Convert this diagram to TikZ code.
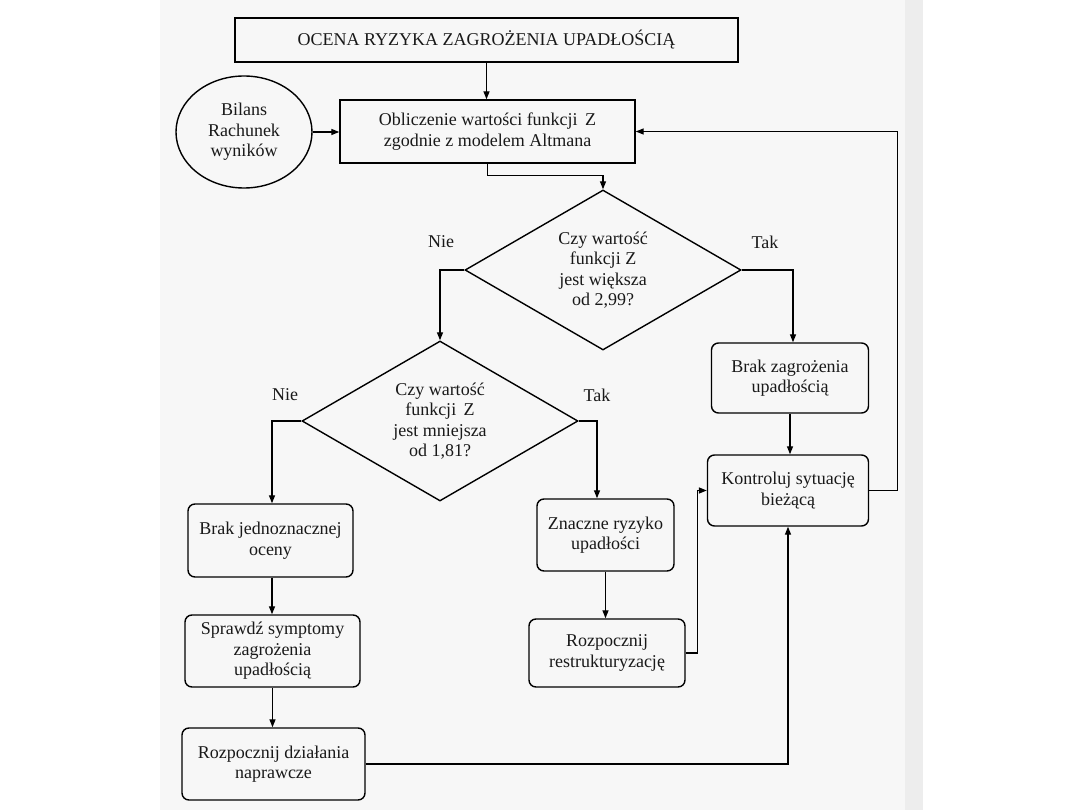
\documentclass[tikz,border=0pt]{standalone}
\usepackage{fontspec}
\setmainfont{Liberation Serif}
\usetikzlibrary{shapes.geometric,arrows.meta}
\begin{document}
\begin{tikzpicture}[x=1pt,y=-1pt,
  txt/.style={font=\fontsize{18}{20.5}\selectfont, align=center, text=black!90},
  sqbox/.style={txt, draw, line width=1.4pt, inner sep=0pt},
  rbox/.style={txt, draw, line width=1.4pt, rounded corners=7pt, inner sep=0pt},
  dec/.style={txt, draw, line width=1.4pt, shape=diamond, aspect=1.725, inner sep=0pt, minimum width=276pt, minimum height=160pt},
  conn/.style={line width=1.3pt, -{Triangle[length=8pt,width=6pt]}},
  lbl/.style={txt}
]
\useasboundingbox (0,0) rectangle (1080,810);
\fill[white] (0,0) rectangle (1080,810);
\fill[black!3] (160,0) rectangle (923,810);
\fill[black!7] (905,0) rectangle (923,810);

\node[sqbox, minimum width=503pt, minimum height=44pt] (top) at (486.5,40) {OCENA RYZYKA ZAGROŻENIA UPADŁOŚCIĄ};
\node[sqbox, minimum width=295pt, minimum height=63pt] (calc) at (487.5,131.5) {Obliczenie wartości funkcji\, Z\\zgodnie z modelem Altmana};
\node[txt, draw, line width=1.4pt, ellipse, minimum width=136pt, minimum height=112pt, inner sep=0pt] (src) at (244,132) {Bilans\\Rachunek\\wyników};
\node[dec] (d1) at (603,270) {Czy wartość\\funkcji Z\\jest większa\\od 2,99?};
\node[dec] (d2) at (440,421) {Czy wartość\\funkcji\, Z\\jest mniejsza\\od 1,81?};
\node[rbox, minimum width=165pt, minimum height=73pt] (bj) at (270.5,540.5) {Brak jednoznacznej\\oceny};
\node[rbox, minimum width=175pt, minimum height=72pt] (sp) at (272.5,651) {Sprawdź symptomy\\zagrożenia\\upadłością};
\node[rbox, minimum width=183pt, minimum height=72pt] (rd) at (273.5,764) {Rozpocznij działania\\naprawcze};
\node[rbox, minimum width=157pt, minimum height=70pt] (bz) at (790,378) {Brak zagrożenia\\upadłością};
\node[rbox, minimum width=161pt, minimum height=71pt] (ko) at (788,490.5) {Kontroluj sytuację\\bieżącą};
\node[rbox, minimum width=137pt, minimum height=72pt] (zn) at (605.5,535) {Znaczne ryzyko\\upadłości};
\node[rbox, minimum width=156pt, minimum height=68pt] (rr) at (607,653) {Rozpocznij\\restrukturyzację};

\node[lbl] (nie1) at (441,242) {Nie};
\node[lbl] (tak1) at (765,242) {Tak};
\node[lbl] (nie2) at (285,395) {Nie};
\node[lbl] (tak2) at (597,395) {Tak};

\draw[conn] (top.south) -- (top.south |- calc.north);
\draw[conn] (src.east) -- (calc.west |- src.east);
\draw[conn] (calc.south) -- ++(0,12) -| (d1.north);
\draw[conn] (d1.west) -| (d2.north);
\draw[conn] (d1.east) -| ([xshift=3pt]bz.north);
\draw[conn] (d2.west) -| ([xshift=1.5pt]bj.north);
\draw[conn] (d2.east) -| ([xshift=-8.5pt]zn.north);
\draw[conn] ([xshift=1.5pt]bj.south) -- ([xshift=1.5pt]bj.south |- sp.north);
\draw[conn] (sp.south) -- (sp.south |- rd.north);
\draw[conn] (zn.south) -- (zn.south |- rr.north);
\draw[conn] (bz.south) -- (bz.south |- ko.north);
\draw[conn] (rr.east) -- ++(12,0) |- (ko.west);
\draw[conn] (rd.east) -| (ko.south);
\draw[conn] (ko.east) -- ++(28,0) |- (calc.east);
\end{tikzpicture}
\end{document}
